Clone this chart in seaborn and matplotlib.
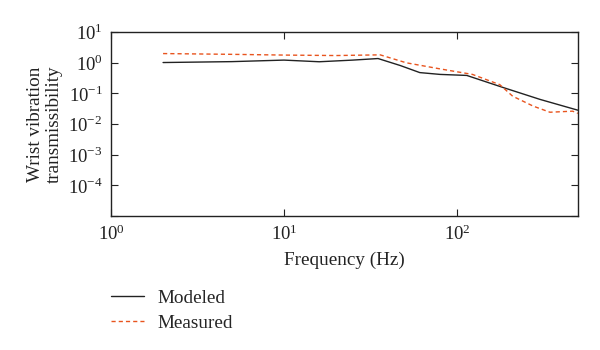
import numpy as np
import pandas as pd
import matplotlib
matplotlib.use("Agg")
import matplotlib.pyplot as plt
import seaborn as sns
from matplotlib.ticker import NullLocator, FixedLocator, LogFormatterMathtext

# values
freq_modeled = [2, 5, 10, 16, 25, 35, 47, 61, 80, 114, 184, 302, 500]
modeled = [1.0, 1.07, 1.2, 1.06, 1.2, 1.35, 0.8, 0.47, 0.41, 0.38, 0.155, 0.063, 0.028]

freq_measured = [2, 5, 10, 20, 36, 51, 80, 123, 177, 210, 276, 345, 467, 500]
measured = [1.96, 1.85, 1.75, 1.69, 1.78, 0.98, 0.62, 0.41, 0.19, 0.08, 0.038, 0.024, 0.026, 0.022]

df = pd.concat([
    pd.DataFrame({"f": freq_modeled, "T": modeled, "series": "Modeled"}),
    pd.DataFrame({"f": freq_measured, "T": measured, "series": "Measured"}),
])

sns.set_style("ticks")
plt.rcParams["font.family"] = ["Liberation Serif", "DejaVu Serif"]
plt.rcParams["mathtext.fontset"] = "custom"
plt.rcParams["mathtext.rm"] = "Liberation Serif"

fig = plt.figure(figsize=(6, 3.5), dpi=100)
ax = fig.add_axes([0.185, 0.383, 0.778, 0.526])

sns.lineplot(data=df, x="f", y="T", hue="series", style="series",
             palette={"Modeled": "#222222", "Measured": "#e8541e"},
             dashes={"Modeled": "", "Measured": (3, 2.2)},
             linewidth=1.0, ax=ax, sort=True, estimator=None)

ax.set_xscale("log")
ax.set_yscale("log")
ax.set_xlim(1, 500)
ax.set_ylim(1e-5, 1e1)
ax.xaxis.set_major_locator(FixedLocator([1, 10, 100]))
ax.yaxis.set_major_locator(FixedLocator([1e-5, 1e-4, 1e-3, 1e-2, 1e-1, 1, 10]))
ax.xaxis.set_minor_locator(NullLocator())
ax.yaxis.set_minor_locator(NullLocator())
ax.xaxis.set_major_formatter(LogFormatterMathtext())
ylabels = ["", r"$10^{-4}$", r"$10^{-3}$", r"$10^{-2}$", r"$10^{-1}$", r"$10^{0}$", r"$10^{1}$"]
ax.set_yticklabels(ylabels)

ax.tick_params(direction="in", length=5, width=0.8, top=True, right=True,
               labelsize=13.5, colors="#222222", pad=6)
for s in ax.spines.values():
    s.set_linewidth(1.0)
    s.set_color("#222222")

ax.set_xlabel("Frequency (Hz)", fontsize=13.8, color="#222222", labelpad=6)
ax.set_ylabel("Wrist vibration\ntransmissibility", fontsize=13.8, color="#222222",
              linespacing=1.1)

handles, labels = ax.get_legend_handles_labels()
ax.legend(handles, labels, loc="upper left", bbox_to_anchor=(0.0, -0.40),
          frameon=False, fontsize=13.8, handlelength=1.7, handletextpad=0.7,
          labelspacing=0.4, borderaxespad=0, borderpad=0)

fig.savefig("out.png", dpi=100)
